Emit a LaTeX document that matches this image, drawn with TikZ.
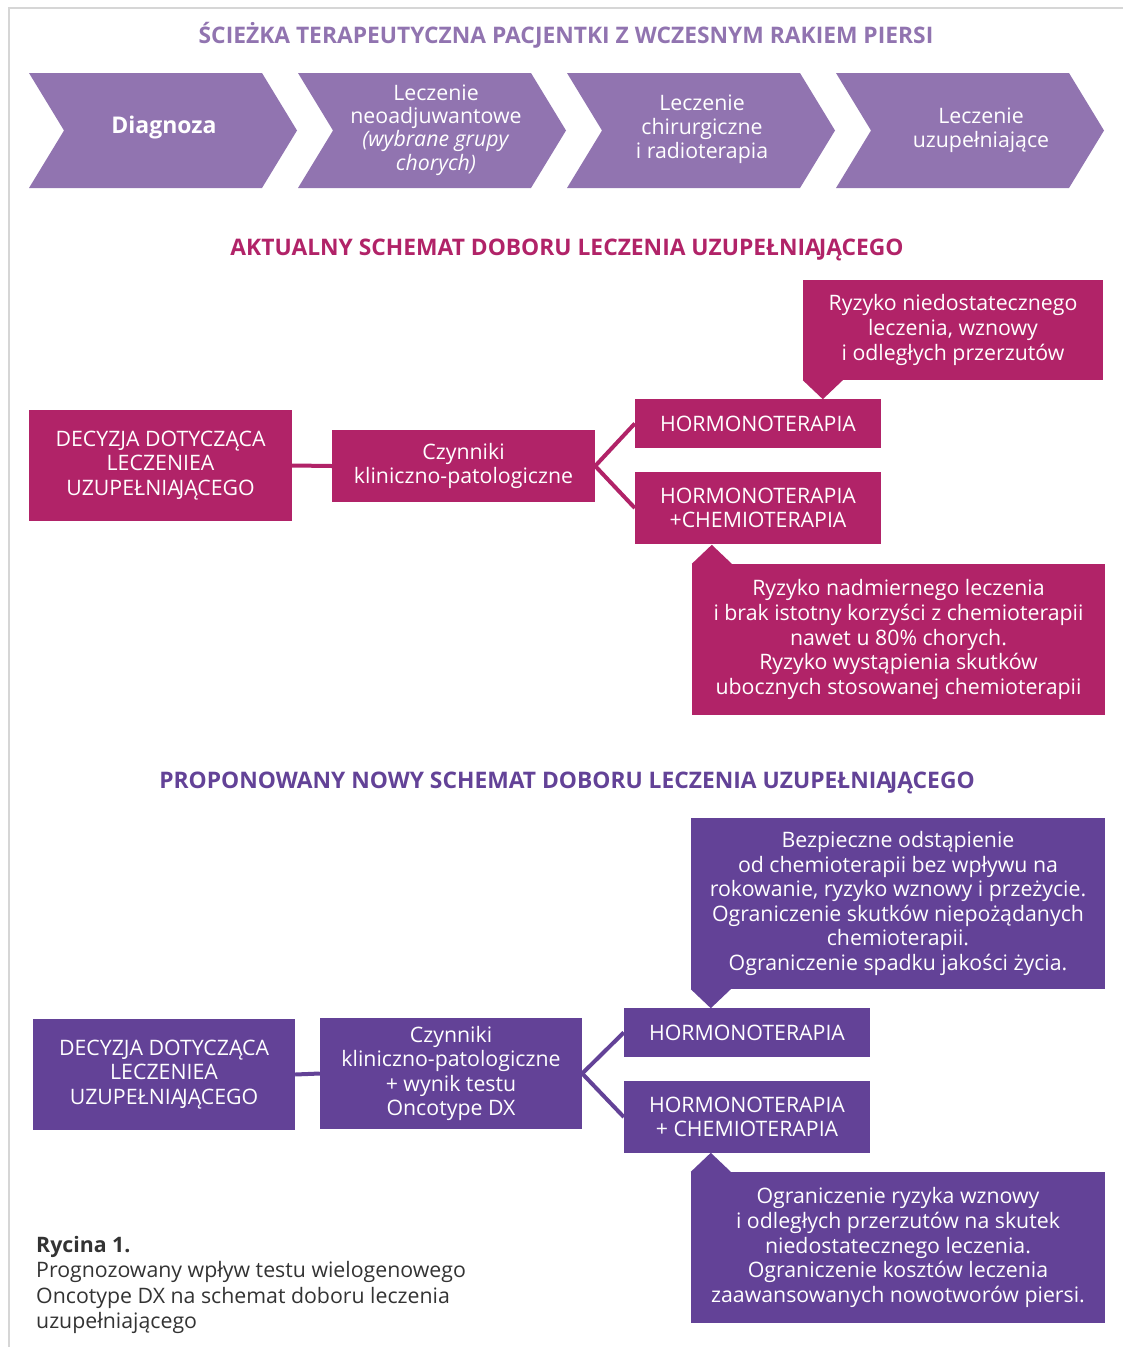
\documentclass[tikz,border=0pt]{standalone}
\usepackage{fontspec}
\setmainfont{Open Sans}
\definecolor{lpurple}{HTML}{9174B0}
\definecolor{magenta}{HTML}{B12368}
\definecolor{dpurple}{HTML}{634297}
\definecolor{framegray}{HTML}{D6D6D6}
\definecolor{captext}{HTML}{333333}
\newcommand{\UZUP}{UZUPEŁNIA\kern-2.2pt JĄCEGO}
\begin{document}
\begin{tikzpicture}[x=1pt,y=-1pt,
  txt/.style={font=\fontsize{21.3}{24.6}\selectfont, text=white, align=center},
  boxm/.style={txt, fill=magenta, inner sep=0pt, minimum width=#1},
  boxp/.style={txt, fill=dpurple, inner sep=0pt, minimum width=#1},
  heading/.style={font=\fontsize{22.8}{27}\selectfont\bfseries},
  chevtxt/.style={text=white, align=center, font=\fontsize{21.3}{23.3}\selectfont},
  conn/.style={line width=4pt},
  chev/.style={fill=lpurple}]
\useasboundingbox (0,0) rectangle (1123,1347);
\draw[framegray, line width=2pt] (9,1347) -- (9,8) -- (1123,8);

% title
\node[heading, text=lpurple] (t1) at (566,35) {ŚCIEŻKA TERAPEUTYCZNA PACJENTKI Z WCZESNYM RAKIEM PIERSI};

% chevrons
\foreach \i in {0,1,2,3}{
  \pgfmathsetmacro{\xo}{29+269*\i}
  \fill[chev] (\xo,73) -- ({\xo+233},73) -- ({\xo+268},130.5) -- ({\xo+233},188) -- (\xo,188) -- ({\xo+35},130.5) -- cycle;
}
\node[chevtxt, font=\fontsize{23}{27}\selectfont\bfseries] (c1) at (164,127.5) {Diagnoza};
\node[chevtxt] (c2) at (436,130) {Leczenie\\neoadjuwantowe\\\textit{(wybrane grupy}\\\textit{chorych)}};
\node[chevtxt, font=\fontsize{21.3}{24}\selectfont] (c3) at (702,129.5) {Leczenie\\chirurgiczne\\i radioterapia};
\node[chevtxt, font=\fontsize{21.3}{24}\selectfont] (c4) at (981,130) {Leczenie\\uzupełniające};

% section 2
\node[heading, text=magenta] (t2) at (567,250) {AKTUALNY SCHEMAT DOBORU LECZENIA \UZUP};

\node[boxm=263pt, minimum height=111pt] (d1) at (160.5,465.5) {DECYZJA DOTYCZĄCA\\LECZENIEA\\\UZUP};
\node[boxm=263pt, minimum height=72pt] (f1) at (463.5,466) {Czynniki\\kliniczno-patologiczne};
\node[boxm=246pt, minimum height=49pt] (h1) at (758,423.5) {HORMONOTERAPIA};
\node[boxm=246pt, minimum height=72pt] (hc1) at (758,508) {HORMONOTERAPIA\\+CHEMIOTERAPIA};
\node[boxm=300pt, minimum height=100pt] (r1) at (953,330) {Ryzyko niedostatecznego\\leczenia, wznowy\\i odległych przerzutów};
\fill[magenta] (r1.south west) -- ++(20,19) -- ++(20,-19) -- cycle;
\node[boxm=413pt, minimum height=151pt] (r2) at (898.5,639.5) {Ryzyko nadmiernego leczenia\\i brak istotny korzyści z chemioterapii\\nawet u 80\% chorych.\\Ryzyko wystąpienia skutków\\ubocznych stosowanej chemioterapii};
\fill[magenta] (r2.north west) -- ++(20,-19) -- ++(20,19) -- cycle;

\draw[conn, magenta] (d1.east) -- (f1.west);
\draw[conn, magenta] (f1.east) -- (h1.west);
\draw[conn, magenta] (f1.east) -- (hc1.west);

% section 3
\node[heading, text=dpurple] (t3) at (567,783) {PROPONOWANY NOWY SCHEMAT DOBORU LECZENIA \UZUP};

\node[boxp=414pt, minimum height=171pt] (r3) at (898,903.5) {Bezpieczne odstąpienie\\od chemioterapii bez wpływu na\\rokowanie, ryzyko wznowy i przeżycie.\\Ograniczenie skutków niepożądanych\\chemioterapii.\\Ograniczenie spadku jakości życia.};
\fill[dpurple] (r3.south west) -- ++(20,19) -- ++(20,-19) -- cycle;
\node[boxp=262pt, minimum height=111pt] (d2) at (164,1074.5) {DECYZJA DOTYCZĄCA\\LECZENIEA\\\UZUP};
\node[boxp=262pt, minimum height=111pt] (f2) at (451,1073.5) {Czynniki\\kliniczno-patologiczne\\+ wynik testu\\Oncotype DX};
\node[boxp=246pt, minimum height=49pt] (h2) at (747,1032.5) {HORMONOTERAPIA};
\node[boxp=246pt, minimum height=72pt] (hc2) at (747,1117) {HORMONOTERAPIA\\+ CHEMIOTERAPIA};
\node[boxp=414pt, minimum height=151pt] (r4) at (898,1247.5) {Ograniczenie ryzyka wznowy\\i odległych przerzutów na skutek\\niedostatecznego leczenia.\\Ograniczenie kosztów leczenia\\zaawansowanych nowotworów piersi.};
\fill[dpurple] (r4.north west) -- ++(20,-19) -- ++(20,19) -- cycle;

\draw[conn, dpurple] (d2.east) -- (f2.west);
\draw[conn, dpurple] (f2.east) -- (h2.west);
\draw[conn, dpurple] (f2.east) -- (hc2.west);

% caption
\node[anchor=north west, align=left, text=captext, font=\fontsize{21.3}{25.5}\selectfont, inner sep=0pt] (cap) at (36,1236)
  {\textbf{Rycina 1.}\\Prognozowany wpływ testu wielogenowego\\Oncotype DX na schemat doboru leczenia\\uzupełniającego};
\end{tikzpicture}
\end{document}
